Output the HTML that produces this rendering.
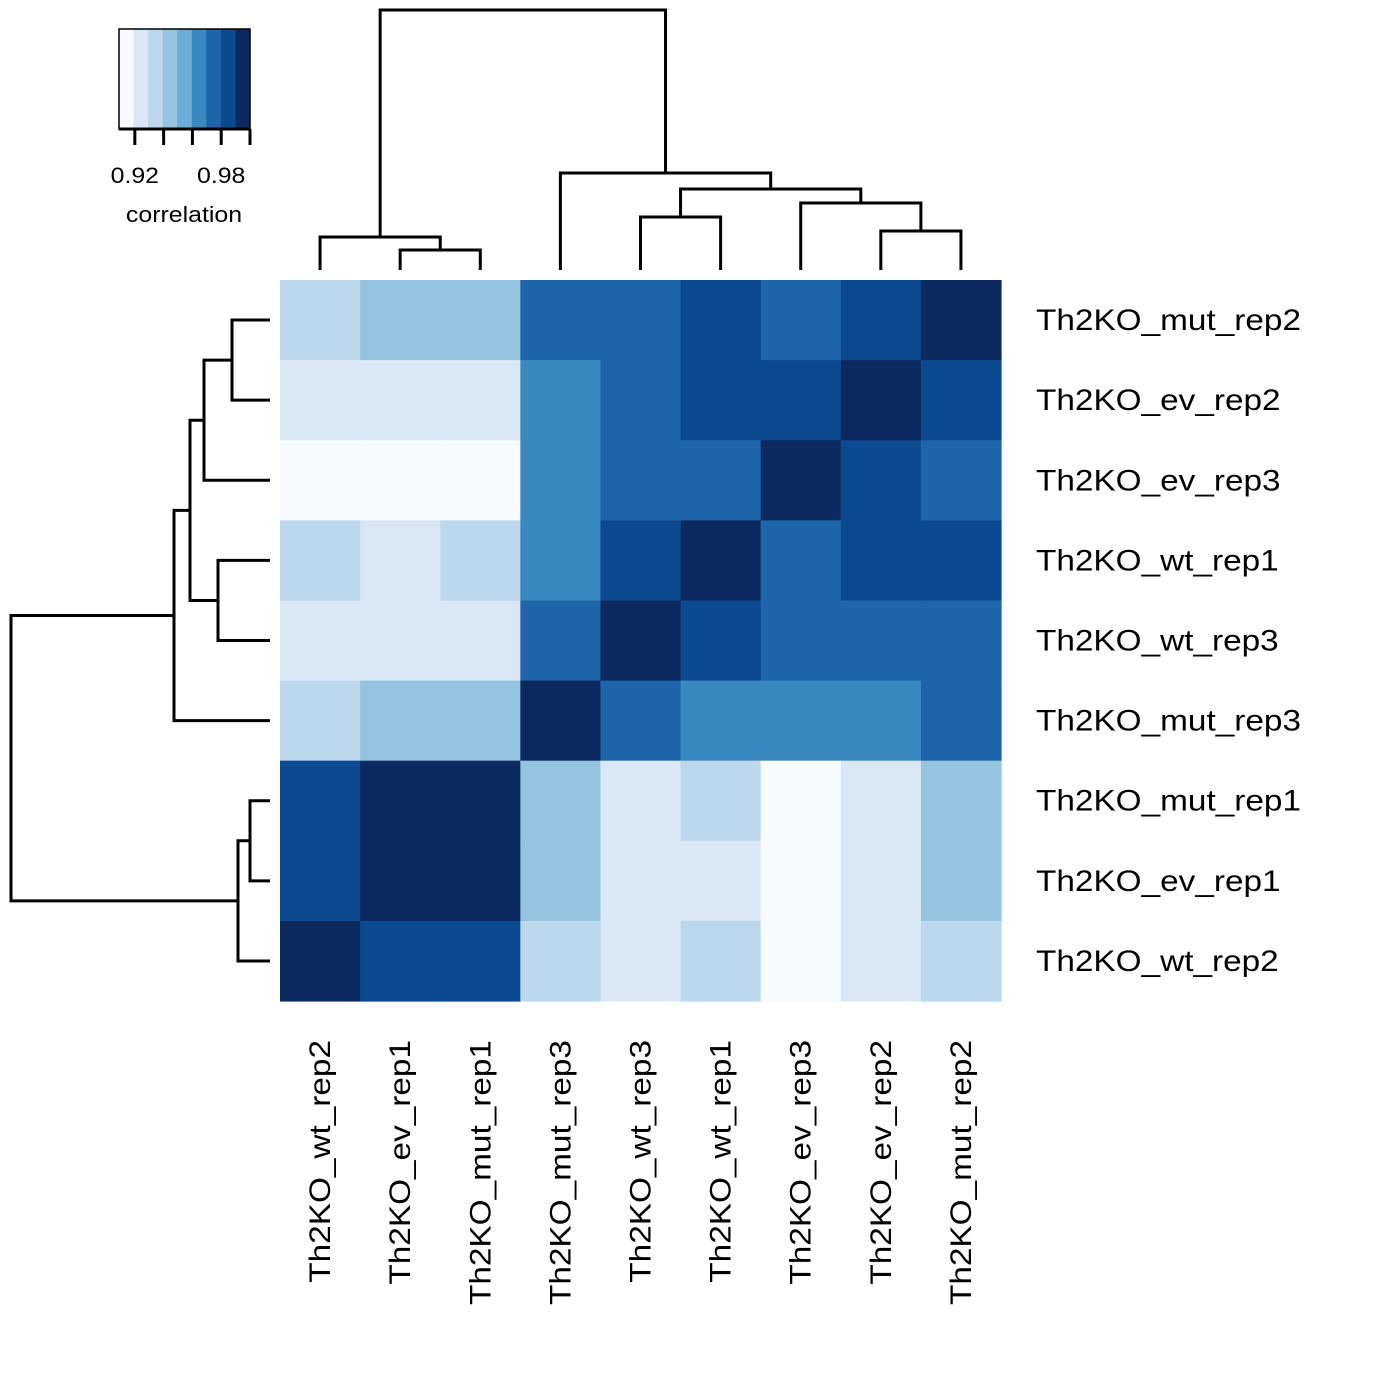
<!DOCTYPE html>
<html><head><meta charset="utf-8">
<style>
html,body{margin:0;padding:0;background:#fff;}
svg{display:block;font-family:"Liberation Sans",Arial,sans-serif;}
</style></head>
<body>
<svg id="chart" width="1400" height="1400" viewBox="0 0 1400 1400" xmlns="http://www.w3.org/2000/svg">
<rect width="1400" height="1400" fill="#fff"/>
<g id="key"></g>
<g id="cells"></g>
<g id="topdend" stroke="#000" stroke-width="3" fill="none"></g>
<g id="leftdend" stroke="#000" stroke-width="3" fill="none"></g>
<g id="labels" font-size="29.5" fill="#000"></g>
</svg>
<script>
const colLabels = ["Th2KO_wt_rep2","Th2KO_ev_rep1","Th2KO_mut_rep1","Th2KO_mut_rep3","Th2KO_wt_rep3","Th2KO_wt_rep1","Th2KO_ev_rep3","Th2KO_ev_rep2","Th2KO_mut_rep2"];
const rowLabels = ["Th2KO_mut_rep2","Th2KO_ev_rep2","Th2KO_ev_rep3","Th2KO_wt_rep1","Th2KO_wt_rep3","Th2KO_mut_rep3","Th2KO_mut_rep1","Th2KO_ev_rep1","Th2KO_wt_rep2"];
const values = [
 [0.934,0.944,0.944,0.974,0.974,0.984,0.974,0.984,1.000],
 [0.924,0.924,0.924,0.964,0.974,0.984,0.984,1.000,0.984],
 [0.914,0.914,0.914,0.964,0.974,0.974,1.000,0.984,0.974],
 [0.934,0.924,0.934,0.964,0.984,1.000,0.974,0.984,0.984],
 [0.924,0.924,0.924,0.974,1.000,0.984,0.974,0.974,0.974],
 [0.934,0.944,0.944,1.000,0.974,0.964,0.964,0.964,0.974],
 [0.984,0.995,0.995,0.944,0.924,0.934,0.914,0.924,0.944],
 [0.984,0.995,0.995,0.944,0.924,0.924,0.914,0.924,0.944],
 [1.000,0.984,0.984,0.934,0.924,0.934,0.914,0.924,0.934]
];
const palette = ["#F7FBFF","#DAE8F6","#BDD7EC","#94C4DF","#6AAED6","#3A88C0","#1F65AB","#0B4A91","#0D2A60"];
const keyMin = 0.909, keyMax = 1.0;
const keyTicks = [0.92,0.94,0.96,0.98,1.0];
const keyTickLabels = ["0.92","0.98"];
const keyTickLabelVals = [0.92,0.98];
const colMerges = [[1,2,20],[0,"m0",33],[4,5,53],[7,8,39],[6,"m3",67],["m2","m4",81],[3,"m5",97],["m1","m6",260]];
const rowMerges = [[0,1,38],[2,"m0",66],[3,4,52],["m1","m2",80],[5,"m3",96],[6,7,20],[8,"m5",32],["m4","m6",259]];

const NS="http://www.w3.org/2000/svg";
const X0=280, Y0=280, W=721, H=721, n=9;
const cw=W/n, ch=H/n;
const WSCALE=1.13;
function colX(i){return X0+cw*(i+0.5);}
function rowY(i){return Y0+ch*(i+0.5);}
function colorFor(v){let k=Math.floor((v-keyMin)/(keyMax-keyMin)*palette.length);k=Math.max(0,Math.min(palette.length-1,k));return palette[k];}
function mk(tag,attrs,parent){const e=document.createElementNS(NS,tag);for(const a in attrs)e.setAttribute(a,attrs[a]);parent.appendChild(e);return e;}
function stretch(e){const w=e.getComputedTextLength();e.setAttribute('textLength',(w*WSCALE).toFixed(1));e.setAttribute('lengthAdjust','spacingAndGlyphs');}

const cells=document.getElementById('cells');
for(let r=0;r<n;r++)for(let c=0;c<n;c++){
  const e=mk('rect',{x:X0+c*cw,y:Y0+r*ch,width:cw+0.6,height:ch+0.6,fill:colorFor(values[r][c])},cells);
  
  
}

const key=document.getElementById('key');
const KX0=119,KX1=250,KY0=29,KY1=129;
function keyX(v){return KX0+(v-keyMin)/(keyMax-keyMin)*(KX1-KX0);}
palette.forEach((col,i)=>{
  const a=keyMin+(keyMax-keyMin)*i/palette.length, b=keyMin+(keyMax-keyMin)*(i+1)/palette.length;
  const e=mk('rect',{x:keyX(a),y:KY0,width:keyX(b)-keyX(a)+0.5,height:KY1-KY0,fill:col},key);
  
  
});
mk('rect',{x:KX0,y:KY0,width:KX1-KX0,height:KY1-KY0,fill:'none',stroke:'#000','stroke-width':1.5},key);
mk('line',{x1:KX0,y1:KY1,x2:KX1,y2:KY1,stroke:'#000','stroke-width':3},key);
keyTicks.forEach(t=>{const e=mk('line',{x1:keyX(t),y1:KY1,x2:keyX(t),y2:KY1+16,stroke:'#000','stroke-width':3},key);
  
  });
keyTickLabels.forEach((t,i)=>{const e=mk('text',{x:keyX(keyTickLabelVals[i]),y:183,'font-size':22,'text-anchor':'middle'},key);e.textContent=t;stretch(e);
  
  });
const kt=mk('text',{x:184,y:222,'font-size':22,'text-anchor':'middle'},key);kt.textContent='correlation';stretch(kt);



function drawDend(merges,g,posFn,base,vertical){
  const pos=[],hgt=[];
  const get=(ref)=>{if(typeof ref==='string'){const k=+ref.slice(1);return [pos[k],hgt[k]];}return [posFn(ref),0];};
  merges.forEach((m,k)=>{
    const [p1,h1]=get(m[0]),[p2,h2]=get(m[1]),h=m[2];
    pos[k]=(p1+p2)/2;hgt[k]=h;
    let d;
    if(vertical){const y=v=>base-v;d=`M${p1},${y(h1)}V${y(h)}H${p2}V${y(h2)}`;}
    else{const x=v=>base-v;d=`M${x(h1)},${p1}H${x(h)}V${p2}H${x(h2)}`;}
    const e=mk('path',{d:d},g);
    
    
  });
}
drawDend(colMerges,document.getElementById('topdend'),colX,270,true);
drawDend(rowMerges,document.getElementById('leftdend'),rowY,270,false);

const lab=document.getElementById('labels');
rowLabels.forEach((t,i)=>{const e=mk('text',{x:1036,y:rowY(i)+10},lab);e.textContent=t;stretch(e);
  
  });
colLabels.forEach((t,i)=>{const x=colX(i)+10,y=1040;const e=mk('text',{x:x,y:y,'text-anchor':'end',transform:`rotate(-90 ${x} ${y})`},lab);e.textContent=t;stretch(e);
  
  });
</script>
</body></html>
